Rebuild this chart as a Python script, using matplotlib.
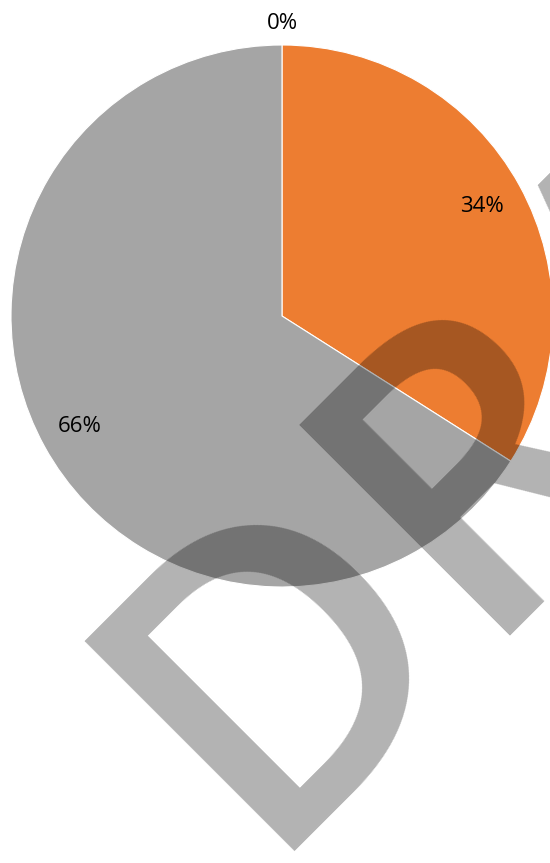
import numpy as np
import matplotlib.pyplot as plt

# slice data, drawn clockwise from 12 o'clock
labels = ["A", "B", "C"]
values = [0, 34, 66]
colors = ["#4472C4", "#ED7D31", "#A5A5A5"]
pct_text = ["0%", "34%", "66%"]
label_dist = [1.08, 0.84, 0.85]

W, H = 550, 863
fig = plt.figure(figsize=(W / 100, H / 100), dpi=100)
ax = fig.add_axes([0, 0, 1, 1])

cx, cy, r = 282, H - 316, 271

ax.pie(values, colors=colors, startangle=90, counterclock=False,
       center=(cx, cy), radius=r, frame=True,
       wedgeprops=dict(edgecolor="white", linewidth=0.8))
ax.set_xlim(0, W)
ax.set_ylim(0, H)
ax.set_aspect("equal")
ax.axis("off")

# percentage labels placed at each slice's middle angle
total = sum(values)
start = 90.0
for v, txt, d in zip(values, pct_text, label_dist):
    span = 360.0 * v / total
    mid = np.radians(start - span / 2)
    ax.text(cx + d * r * np.cos(mid), cy + d * r * np.sin(mid), txt,
            ha="center", va="center", fontsize=16, family="Open Sans",
            color="black")
    start -= span

# "DRAFT" watermark
ax.text(256, 12, "DRAFT", rotation=45, rotation_mode="anchor",
        ha="left", va="baseline", fontsize=300, family="Open Sans",
        fontweight="semibold", color="black", alpha=0.3, zorder=5)

plt.savefig("out.png", dpi=100)
